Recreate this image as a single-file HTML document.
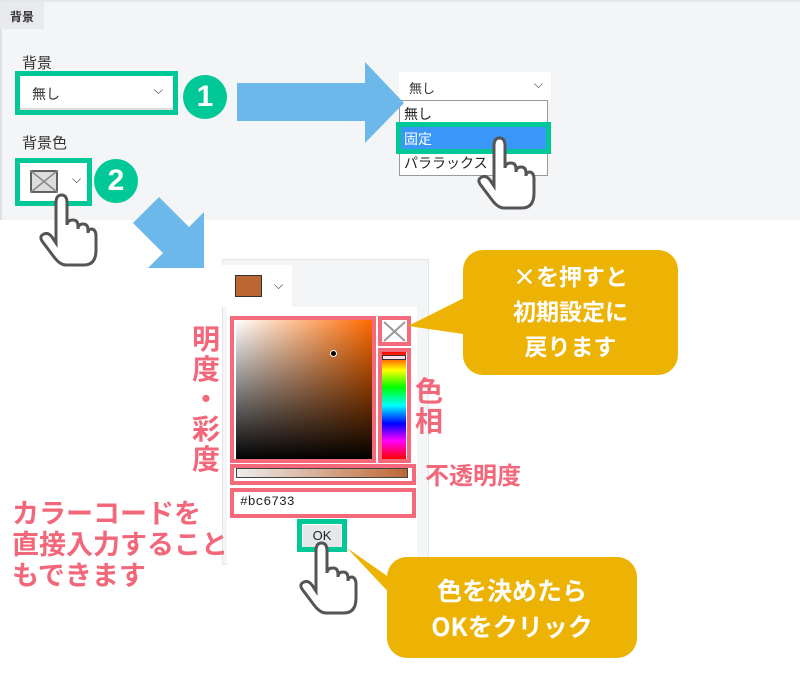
<!DOCTYPE html>
<html><head><meta charset="utf-8"><style>
*{margin:0;padding:0;box-sizing:border-box}
body{width:800px;height:677px;overflow:hidden;background:#fff;position:relative;font-family:"Liberation Sans","Noto Sans CJK JP",sans-serif}
.a{position:absolute}
.pk{color:#f2687a;font-weight:bold;font-family:"Noto Sans CJK JP",sans-serif}
.wt{color:#fff;font-weight:bold;font-family:"Noto Sans CJK JP",sans-serif;text-align:center}
.pb{position:absolute;border:4px solid #f46a7b}
.gb{position:absolute;border:5px solid #00c896}
</style></head><body>
<div class="a" style="left:0;top:0;width:800px;height:220px;background:#f4f5f7;border-left:2px solid #dde0e4;border-top:2px solid #e4e6ea"></div>
<div class="a" style="left:0;top:2px;width:44px;height:27px;background:#e8eaed;font-size:12px;font-weight:bold;color:#333;padding:6px 0 0 10px">背景</div>
<div class="a" style="left:22px;top:52px;font-size:15px;color:#333">背景</div>
<div class="gb" style="left:15px;top:71px;width:163px;height:44px"></div>
<div class="a" style="left:20px;top:76px;width:153px;height:34px;background:#fff;border-bottom:2px solid #ddd;font-size:14px;color:#333;padding:8px 0 0 12px">無し<span style="position:absolute;right:10px;top:7px;font-size:12px">⌵</span></div>
<div class="a" style="left:183px;top:75px;width:44px;height:44px;border-radius:50%;background:#00c896;color:#fff;font-size:30px;font-weight:bold;text-align:center;line-height:44px">1</div>
<div class="a" style="left:22px;top:132px;font-size:15px;color:#333">背景色</div>
<div class="gb" style="left:15px;top:158px;width:77px;height:48px"></div>
<div class="a" style="left:20px;top:163px;width:67px;height:38px;background:#fff"><span style="position:absolute;left:52px;top:9px;font-size:12px;color:#333">⌵</span></div>
<div class="a" style="left:94px;top:159px;width:44px;height:44px;border-radius:50%;background:#00c896;color:#fff;font-size:30px;font-weight:bold;text-align:center;line-height:44px">2</div>

<div class="a" style="left:399px;top:72px;width:152px;height:28px;background:#fff;font-size:13px;color:#333;padding:6px 0 0 10px">無し<span style="position:absolute;right:8px;top:5px;font-size:12px">⌵</span></div>
<div class="a" style="left:399px;top:100px;width:149px;height:76px;background:#fff;border:1px solid #999;font-size:14px;color:#222">
<div style="padding:3px 0 0 4px;height:22px">無し</div>
<div style="background:#3a96f7;color:#fff;height:24px;padding:3px 0 0 4px;margin-top:3px">固定</div>
<div style="padding:3px 0 0 4px">パララックス</div></div>
<div class="gb" style="left:396px;top:122px;width:155px;height:32px"></div>

<div class="a" style="left:222px;top:259px;width:207px;height:306px;background:#f4f5f7;border:1px solid #e3e5e8"></div>
<div class="a" style="left:222px;top:265px;width:70px;height:42px;background:#fff"></div>
<div class="a" style="left:235px;top:275px;width:27px;height:22px;background:#bc6733;border:1px solid #333"></div>
<div class="a" style="left:274px;top:278px;font-size:12px;color:#333">⌵</div>
<div class="a" style="left:227px;top:307px;width:190px;height:258px;background:#fff"></div>
<div class="a" style="left:236px;top:320px;width:136px;height:140px;background:linear-gradient(to top,#000,rgba(0,0,0,0)),linear-gradient(to right,#fff,#ff6a00)"></div>
<div class="a" style="left:330px;top:350px;width:7px;height:7px;border-radius:50%;background:#000;border:1px solid #fff"></div>
<div class="a" style="left:382px;top:352px;width:24px;height:107px;background:linear-gradient(#f00,#ff0 17%,#0f0 33%,#0ff 50%,#00f 67%,#f0f 83%,#f00)"></div>
<div class="a" style="left:382px;top:355px;width:24px;height:5px;background:#fde;border:1px solid #333"></div>
<div class="a" style="left:236px;top:468px;width:172px;height:10px;background:linear-gradient(to right,#eee,#bc6733);border:1px solid #444"></div>
<div class="a" style="left:240px;top:494px;font-size:13px;color:#222;font-family:'Liberation Mono',monospace">#bc6733</div>
<div class="a" style="left:303px;top:525px;width:38px;height:22px;background:#e5e7eb;font-size:13px;color:#222;text-align:center;line-height:22px">OK</div>

<div class="pb" style="left:230px;top:316px;width:146px;height:147px"></div>
<div class="pb" style="left:378px;top:316px;width:33px;height:30px"></div>
<div class="pb" style="left:378px;top:348px;width:33px;height:115px"></div>
<div class="pb" style="left:230px;top:464px;width:186px;height:21px"></div>
<div class="pb" style="left:230px;top:488px;width:186px;height:30px"></div>
<div class="gb" style="left:297px;top:519px;width:50px;height:33px"></div>

<svg class="a" style="left:0;top:0" width="800" height="677">
<polygon points="237,83 365,83 365,62 404,103 365,143 365,121 237,121" fill="#6cb8ea"/>
<polygon points="159,197 189,227 204,212 204,268 148,268 163,253 133,223" fill="#6cb8ea"/>
<g stroke="#888" stroke-width="1.5"><rect x="31" y="171" width="26" height="21" fill="#ddd" stroke="#333"/><line x1="31" y1="171" x2="57" y2="192"/><line x1="57" y1="171" x2="31" y2="192"/></g>
<g stroke="#999" stroke-width="2"><line x1="384" y1="322" x2="405" y2="341"/><line x1="405" y1="322" x2="384" y2="341"/></g>
<defs><path id="h" d="M16,8 Q16,0 21.5,0 Q27,0 27,8 L27,30 Q27,25 33,25 Q38,25 38,31 L38,34 Q38,29 43,29 Q48,29 48,35 L48,38 Q48,34 52,34 Q56,35 56,41 L56,55 Q56,70 44,70 L26,70 Q20,70 14,62 L2,46 Q-1,41 4,39 Q8,37 12,42 L16,48 Z" fill="#fff" stroke="#555" stroke-width="3"/></defs>
<use href="#h" x="40" y="195"/>
<use href="#h" x="478" y="138"/>
<use href="#h" x="300" y="543"/>
<polygon points="408,326 470,295 470,335" fill="#ecb305"/>
<rect x="463" y="250" width="215" height="125" rx="20" fill="#ecb305"/>
<polygon points="347,548 400,585 410,615" fill="#ecb305"/>
<rect x="387" y="557" width="250" height="101" rx="20" fill="#ecb305"/>
</svg>
<div class="a wt" style="left:463px;top:258px;width:215px;font-size:23px;line-height:35px">×を押すと<br>初期設定に<br>戻ります</div>
<div class="a wt" style="left:387px;top:572px;width:250px;font-size:25px;line-height:36px">色を決めたら<br>OKをクリック</div>
<div class="a pk" style="left:190px;top:323px;width:32px;font-size:28px;line-height:30px;text-align:center">明<br>度<br>・<br>彩<br>度</div>
<div class="a pk" style="left:415px;top:375px;width:32px;font-size:28px;line-height:30px">色<br>相</div>
<div class="a pk" style="left:425px;top:456px;font-size:24px">不透明度</div>
<div class="a pk" style="left:12px;top:496px;font-size:27px;line-height:31px">カラーコードを<br>直接入力すること<br>もできます</div>
</body></html>
